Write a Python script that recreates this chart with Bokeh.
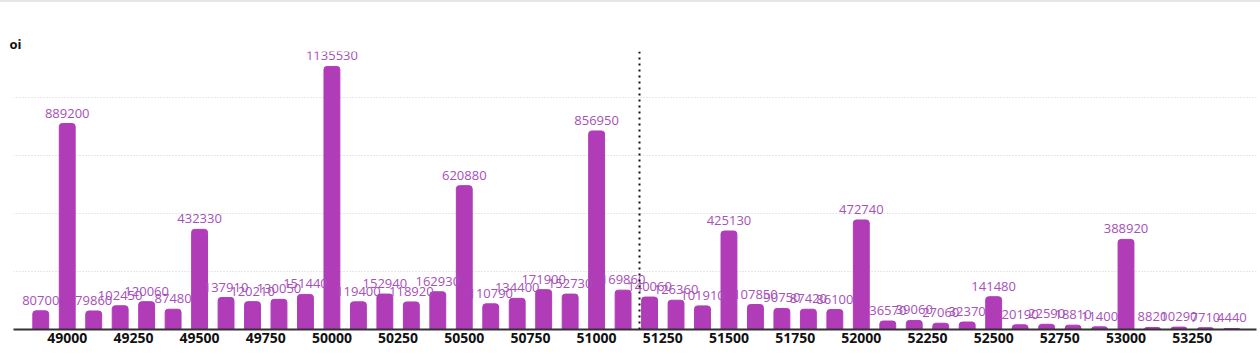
from bokeh.plotting import figure
from bokeh.models import ColumnDataSource, Range1d, FixedTicker, SingleIntervalTicker, Span
from bokeh.core.properties import value
from bokeh.embed import file_html
from bokeh.resources import INLINE

strikes = [48900, 49000, 49100, 49200, 49300, 49400, 49500, 49600, 49700, 49800, 49900,
           50000, 50100, 50200, 50300, 50400, 50500, 50600, 50700, 50800, 50900,
           51000, 51100, 51200, 51300, 51400, 51500, 51600, 51700, 51800, 51900,
           52000, 52100, 52200, 52300, 52400, 52500, 52600, 52700, 52800, 52900,
           53000, 53100, 53200, 53300, 53400]
oi = [80700, 889200, 79860, 102450, 120060, 87480, 432330, 137910, 120210, 130050, 151440,
      1135530, 119400, 152940, 118920, 162930, 620880, 110790, 134400, 171900, 152730,
      856950, 169860, 140060, 126360, 101910, 425130, 107850, 90750, 87420, 86100,
      472740, 36570, 39060, 27060, 32370, 141480, 20190, 22590, 18810, 11400,
      388920, 8820, 10290, 7710, 4440]
x_ticks = [49000, 49250, 49500, 49750, 50000, 50250, 50500, 50750, 51000, 51250,
           51500, 51750, 52000, 52250, 52500, 52750, 53000, 53250]
spot = 51162

FONT = "Open Sans"
BAR = "#b03cb8"
LBL = "#a650b8"

src = ColumnDataSource(dict(x=strikes, y=oi, t=[str(v) for v in oi]))

p = figure(width=1260, height=352, output_backend="svg", toolbar_location=None,
           x_range=Range1d(48797, 53493), y_range=Range1d(0, 1200000),
           title="oi", min_border_left=13, min_border_right=4, min_border_top=49,
           min_border_bottom=25)
p.styles = {"border-top": "2px solid #e6e6e6"}
p.outline_line_color = None
p.title.text_font = FONT
p.title.text_font_style = "bold"
p.title.text_font_size = "13px"
p.title.text_color = "#111111"
p.title.align = "left"
p.title.offset = -4
p.title.standoff = -3

p.vbar(x="x", top="y", width=60, source=src, color=BAR, border_radius=(3, 3, 0, 0))
p.text(x="x", y="y", text="t", source=src, y_offset=-6, text_align="center",
       text_baseline="bottom", text_font=value(FONT), text_font_size="13px",
       text_color=LBL)

p.add_layout(Span(location=spot, dimension="height", line_color="#111111",
                  line_dash="2 4", line_width=2))

p.xaxis.ticker = FixedTicker(ticks=x_ticks)
p.xaxis.axis_line_color = "#333333"
p.xaxis.axis_line_width = 2
p.xaxis.major_tick_line_color = None
p.xaxis.minor_tick_line_color = None
p.xaxis.major_tick_out = 0
p.xaxis.major_label_standoff = 3
p.xaxis.major_label_text_font = FONT
p.xaxis.major_label_text_font_style = "bold"
p.xaxis.major_label_text_font_size = "14px"
p.xaxis.major_label_text_color = "#111111"

p.yaxis.visible = False
p.ygrid.ticker = SingleIntervalTicker(interval=250000)
p.ygrid.grid_line_color = "#d0d0d0"
p.ygrid.grid_line_dash = "1 2"
p.xgrid.grid_line_color = None

open("out.html", "w").write(file_html(p, INLINE))
